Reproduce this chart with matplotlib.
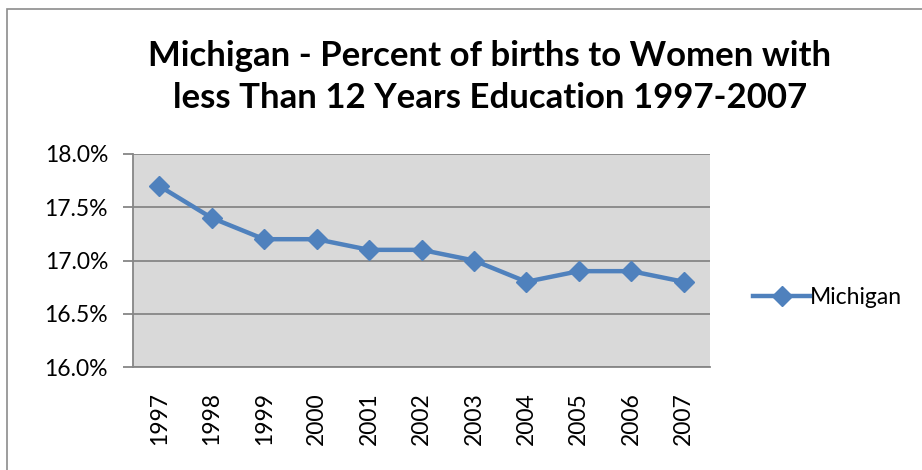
import matplotlib
matplotlib.use("Agg")
import matplotlib.pyplot as plt
from matplotlib.patches import Rectangle
from matplotlib.ticker import FuncFormatter

years = ["1997", "1998", "1999", "2000", "2001", "2002", "2003", "2004", "2005", "2006", "2007"]
values = [17.7, 17.4, 17.2, 17.2, 17.1, 17.1, 17.0, 16.8, 16.9, 16.9, 16.8]
yticks = [16.0, 16.5, 17.0, 17.5, 18.0]
title = "Michigan - Percent of births to Women with\nless Than 12 Years Education 1997-2007"
series_name = "Michigan"

plt.rcParams['font.family'] = ['Lato', 'DejaVu Sans']

W, H = 922, 470
fig = plt.figure(figsize=(W / 100, H / 100), dpi=100)
fig.patch.set_facecolor("white")

# outer chart border
fig.patches.append(Rectangle((7 / W, -0.01), 1.0, 1 - 9 / H + 0.01, transform=fig.transFigure,
                             fill=False, edgecolor="#8c8c8c", linewidth=1.2))

ax = fig.add_axes([133 / W, 1 - 367 / H, (710 - 133) / W, (367 - 154) / H])
ax.set_facecolor("#D9D9D9")

x = list(range(len(years)))
line, = ax.plot(x, values, color="#4F81BD", linewidth=3.2, marker="D", markersize=10,
                markeredgecolor="#4F81BD", label=series_name, zorder=3)

ax.set_xlim(-0.5, len(years) - 0.5)
ax.set_ylim(16.0, 18.0)
ax.set_yticks(yticks)
ax.yaxis.set_major_formatter(FuncFormatter(lambda v, p: f"{v:.1f}%"))
ax.set_xticks(x)
ax.set_xticklabels(years, rotation=90)

ax.grid(axis="y", color="#868686", linewidth=1.3)
ax.set_axisbelow(True)
for s in ["top", "right"]:
    ax.spines[s].set_visible(False)
for s in ["left", "bottom"]:
    ax.spines[s].set_color("#868686")
    ax.spines[s].set_linewidth(1.3)

ax.tick_params(axis="y", length=7, color="#868686", width=1.3, labelsize=16.5, pad=11)
ax.tick_params(axis="x", length=0, labelsize=16.5, pad=18)

fig.text(490 / W, 1 - 77 / H, title, ha="center", va="center", fontsize=25, fontweight="bold",
         linespacing=1.4)

ax.legend(handles=[line], loc="center left", bbox_to_anchor=(742 / W, 1 - 298 / H),
          bbox_transform=fig.transFigure, frameon=False, fontsize=16.5,
          handlelength=2.45, handletextpad=0.0, borderpad=0)

fig.savefig("out.png", dpi=100)
